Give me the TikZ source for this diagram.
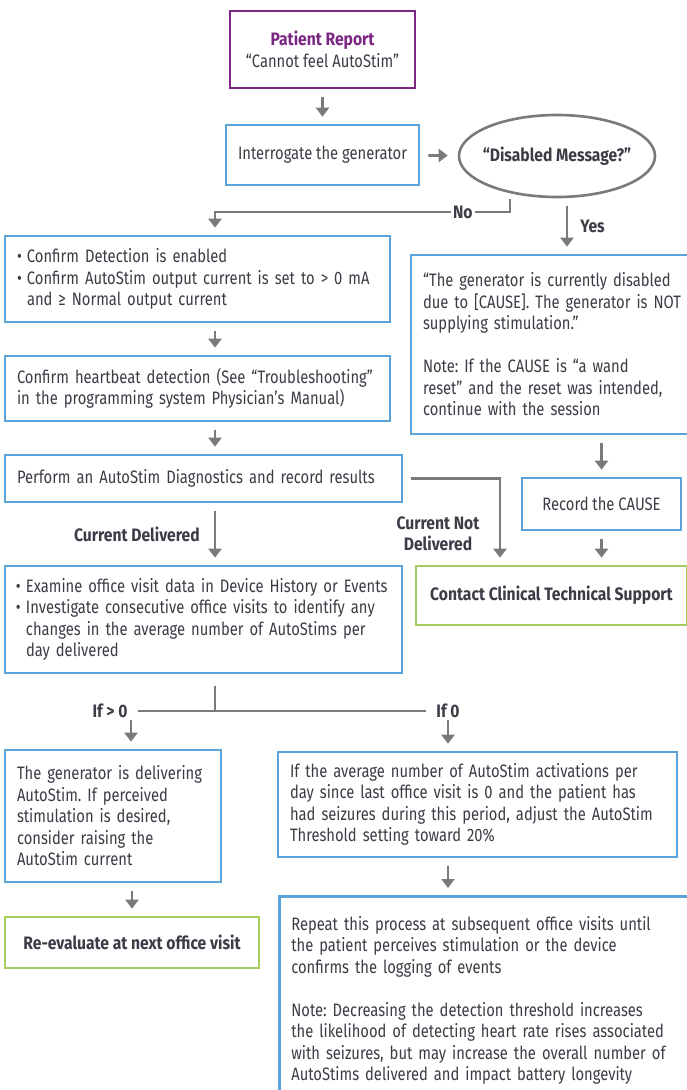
\documentclass[tikz,border=0pt]{standalone}
\usepackage{fontspec}
\setmainfont{Fira Sans}[FakeStretch=0.82, BoldFeatures={FakeStretch=0.87}]
\usepackage{tikz}
\usetikzlibrary{arrows.meta, positioning, shapes.geometric, calc}

\definecolor{boxblue}{HTML}{5BA3D9}
\definecolor{plum}{HTML}{7B2783}
\definecolor{leafgreen}{HTML}{A3CD5E}
\definecolor{linegray}{HTML}{7A7A7A}
\definecolor{inkgray}{HTML}{3C3C46}

\newcommand{\bitem}[1]{\makebox[10pt][l]{\textbullet}\parbox[t]{\dimexpr\hsize-10pt}{#1}}

\begin{document}
\frenchspacing
\begin{tikzpicture}[
    x=1pt, y=-1pt,
    font=\fontsize{18}{21.5}\selectfont,
    text=inkgray,
    flowbox/.style={draw=#1, line width=2.6pt, fill=white, inner xsep=12pt, inner ysep=4pt},
    bluebox/.style={flowbox=boxblue, align=left},
    endbox/.style={flowbox=leafgreen, font=\fontsize{18}{21.5}\selectfont\bfseries},
    arr/.style={-{Triangle[width=13pt,length=9pt]}, line width=2.6pt, draw=linegray, shorten <=8pt, shorten >=7pt},
    conn/.style={line width=2.6pt, draw=linegray},
    lbl/.style={font=\fontsize{18}{21.5}\selectfont\bfseries, text=inkgray, inner sep=2pt}
]
\useasboundingbox (0,0) rectangle (687,1090);

% Start
\node[flowbox=plum, minimum width=185pt, minimum height=77pt, align=center] (report) at (322.5,49.5)
    {{\color{plum}\bfseries Patient Report}\\“Cannot feel AutoStim”};
\node[flowbox=boxblue, minimum width=191pt, minimum height=60pt] (interr) at (322.5,155) {Interrogate the generator};
\node[draw=linegray, ellipse, line width=2.6pt, inner xsep=-7pt, inner ysep=2pt, minimum width=196pt, minimum height=82pt, font=\fontsize{18}{21.5}\selectfont\bfseries] (disabled) at (557,156) {“Disabled Message?”};

\draw[arr] (report) -- (interr);
\draw[arr, shorten <=8pt, shorten >=10pt] (interr) -- (disabled);

% No branch (left column)
\coordinate (col) at (215,0);
\node[bluebox, text width=361pt, minimum height=86pt] (conf) at (197.5,279)
    {\bitem{Confirm Detection is enabled}\\\bitem{Confirm AutoStim output current is set to > 0 mA\newline and ≥ Normal output current}};
\node[bluebox, text width=361pt, minimum height=65pt] (heart) at (197.5,388.5)
    {Confirm heartbeat detection (See “Troubleshooting”\\in the programming system Physician’s Manual)};
\node[bluebox, text width=373pt, minimum height=47pt] (diag) at (203.5,478.5)
    {Perform an AutoStim Diagnostics and record results};
\node[bluebox, inner xsep=11pt, text width=375pt, minimum height=107pt] (exam) at (203.5,619.5)
    {\bitem{Examine office visit data in Device History or Events}\\\bitem{Investigate consecutive office visits to identify any\newline changes in the average number of AutoStims per\newline day delivered}};

\coordinate (nostart) at (510,199);
\coordinate (nocorner) at (215,212);
\draw[arr, shorten <=0pt] (nostart) |- node[lbl, fill=white, pos=0.58] {No} (nocorner) -- (conf.north -| col);
\draw[arr] (conf.south -| col) -- (heart.north -| col);
\draw[arr] (heart.south -| col) -- (diag.north -| col);
\draw[arr] (diag.south -| col) -- node[lbl, left=12pt] {Current Delivered} (exam.north -| col);

% Yes branch (right column)
\node[bluebox, text width=272pt, minimum height=179pt] (yesmsg) at (559,344.5)
    {“The generator is currently disabled\\due to [CAUSE]. The generator is NOT\\supplying stimulation.”\\[21.5pt]Note: If the CAUSE is “a wand\\reset” and the reset was intended,\\continue with the session};
\node[flowbox=boxblue, minimum width=159pt, minimum height=52pt] (cause) at (601.5,504) {Record the CAUSE};
\node[endbox, minimum width=271pt, minimum height=59pt] (support) at (551.5,595.5) {Contact Clinical Technical Support};

\coordinate (yescol) at (567,0);
\draw[arr] (disabled.south -| yescol) -- node[lbl, right=10pt] {Yes} (yesmsg.north -| yescol);
\draw[arr] (yesmsg.south -| cause) -- (cause);
\draw[arr] (cause) -- (cause |- support.north);

% Current not delivered
\coordinate (ndcol) at (500,0);
\draw[arr] (diag.east) -| (support.north -| ndcol);
\node[lbl, align=center] (notdeliv) at (438,534) {Current Not\\Delivered};

% Split on AutoStims per day
\coordinate (split) at (215,710);
\node[lbl] (gtz) at (110,711) {If > 0};
\node[lbl] (eqz) at (448,711) {If 0};
\draw[conn, shorten <=12pt] (exam.south -| split) -- (split);
\draw[conn, shorten <=8pt, shorten >=8pt] (gtz.east) -- (eqz.west);

\node[bluebox, text width=192pt, minimum height=132pt] (deliv) at (113,816)
    {The generator is delivering\\AutoStim. If perceived\\stimulation is desired,\\consider raising the\\AutoStim current};
\node[endbox, minimum width=254pt, minimum height=51pt] (reeval) at (132,942.5) {Re-evaluate at next office visit};
\node[bluebox, text width=375pt, minimum height=105pt] (adjust) at (477.5,804.5)
    {If the average number of AutoStim activations per\\day since last office visit is 0 and the patient has\\had seizures during this period, adjust the AutoStim\\Threshold setting toward 20\%};
\node[bluebox, text width=388pt, minimum height=208pt, anchor=north west] (repeat) at (278,895)
    {Repeat this process at subsequent office visits until\\the patient perceives stimulation or the device\\confirms the logging of events\\[21.5pt]Note: Decreasing the detection threshold increases\\the likelihood of detecting heart rate rises associated\\with seizures, but may increase the overall number of\\AutoStims delivered and impact battery longevity};

\coordinate (gtcol) at (131,0);
\draw[arr, shorten <=0pt] (gtz.south -| gtcol) -- (deliv.north -| gtcol);
\draw[arr, shorten <=0pt] (eqz.south) -- (adjust.north -| eqz);
\draw[arr] (deliv.south -| reeval) -- (reeval);
\draw[arr] (adjust.south -| eqz) -- (repeat.north -| eqz);
\end{tikzpicture}
\end{document}
